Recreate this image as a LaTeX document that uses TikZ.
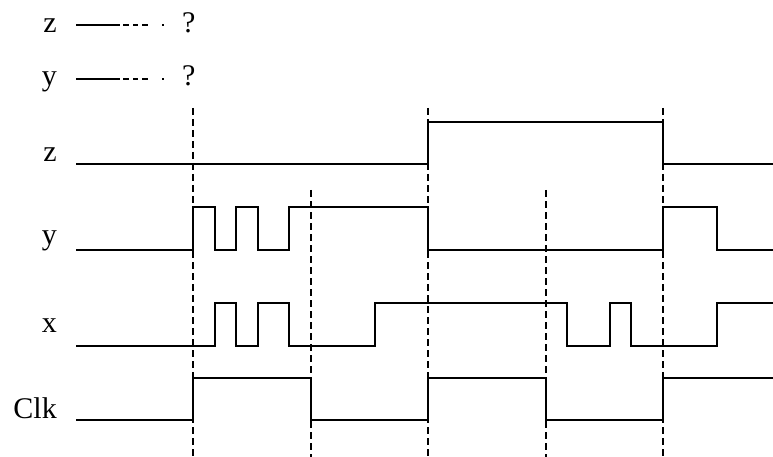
\documentclass[tikz,border=0pt]{standalone}
\usepackage{fontspec}
\setmainfont{Liberation Serif}
\begin{document}
\begin{tikzpicture}[x=1pt,y=-1pt,
  sig/.style={line width=1.6pt, line join=miter},
  guide/.style={line width=1.4pt, dash pattern=on 7pt off 4pt},
  legsolid/.style={line width=1.3pt},
  legdash/.style={line width=1.3pt, dash pattern=on 0pt off 3pt on 6pt off 4pt on 5pt off 4pt on 6pt off 14pt on 2pt off 50pt},
  lbl/.style={anchor=base east, inner sep=0pt, font=\fontsize{30}{32}\selectfont},
  qm/.style={anchor=base west, inner sep=0pt, font=\fontsize{30}{32}\selectfont}]
\useasboundingbox (0,0) rectangle (773,457);

% legend
\node[lbl] (lz) at (57,33) {z};
\node[lbl] (ly) at (57,86) {y};
\coordinate (lz1) at (76,25); \coordinate (lz2) at (120,25); \coordinate (lz3) at (164,25);
\coordinate (ly1) at (76,79); \coordinate (ly2) at (120,79); \coordinate (ly3) at (164,79);
\node[qm] (qz) at (182,33) {?};
\node[qm] (qy) at (182,86) {?};
\draw[legsolid] (lz1) -- (lz2);
\draw[legdash] (lz2) -- (lz3);
\draw[legsolid] (ly1) -- (ly2);
\draw[legdash] (ly2) -- (ly3);

% signal labels
\node[lbl] (nz) at (57,162) {z};
\node[lbl] (ny) at (57,244) {y};
\node[lbl] (nx) at (57,332) {x};
\node[lbl] (nclk) at (57,418) {Clk};

% guide lines
\coordinate (t1) at (193,108); \coordinate (b1) at (193,457);
\coordinate (t2) at (311,190); \coordinate (b2) at (311,457);
\coordinate (t3) at (428,108); \coordinate (b3) at (428,457);
\coordinate (t4) at (546,190); \coordinate (b4) at (546,457);
\coordinate (t5) at (663,108); \coordinate (b5) at (663,457);
\foreach \i in {1,...,5} \draw[guide] (t\i) -- (b\i);

% signals
\draw[sig] (76,164) -- (428,164) -- (428,122) -- (663,122) -- (663,164) -- (773,164);
\draw[sig] (76,250) -- (193,250) -- (193,207) -- (215,207) -- (215,250) -- (236,250)
  -- (236,207) -- (258,207) -- (258,250) -- (289,250) -- (289,207) -- (428,207)
  -- (428,250) -- (663,250) -- (663,207) -- (717,207) -- (717,250) -- (773,250);
\draw[sig] (76,346) -- (215,346) -- (215,303) -- (236,303) -- (236,346) -- (258,346)
  -- (258,303) -- (289,303) -- (289,346) -- (375,346) -- (375,303) -- (567,303)
  -- (567,346) -- (610,346) -- (610,303) -- (631,303) -- (631,346) -- (717,346)
  -- (717,303) -- (773,303);
\draw[sig] (76,420) -- (193,420) -- (193,378) -- (311,378) -- (311,420) -- (428,420)
  -- (428,378) -- (546,378) -- (546,420) -- (663,420) -- (663,378) -- (773,378);
\end{tikzpicture}
\end{document}
